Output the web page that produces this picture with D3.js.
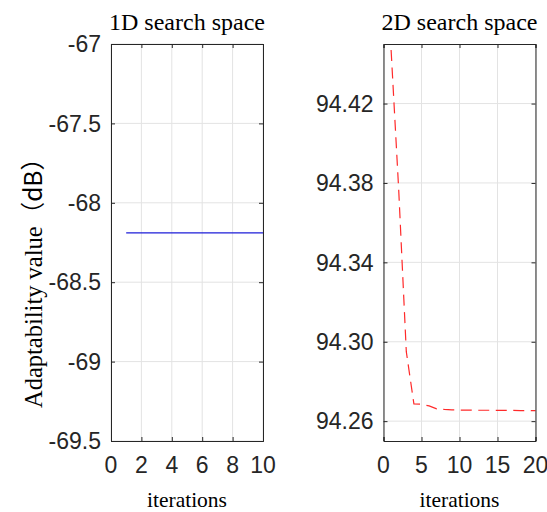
<!DOCTYPE html>
<html>
<head>
<meta charset="utf-8">
<script src="https://cdn.jsdelivr.net/npm/d3@7"></script>
<style>
  html, body { margin: 0; padding: 0; background: #fff; }
  svg { display: block; }
  .tick-label { font-family: "Liberation Sans", Arial, Helvetica, sans-serif; font-size: 23px; fill: #262626; }
  .serif { font-family: "Liberation Serif", "Times New Roman", serif; fill: #000; }
</style>
</head>
<body>
<svg id="chart" width="547" height="512"></svg>
<script>
// Iteration histories for the two searches
const iter1D = [1, 2, 3, 4, 5, 6, 7, 8, 9, 10];
const fitness1D = [-68.19, -68.19, -68.19, -68.19, -68.19, -68.19, -68.19, -68.19, -68.19, -68.19];

const iter2D = [1, 2, 3, 4, 5, 6, 7, 8, 9, 10, 11, 12, 13, 14, 15, 16, 17, 18, 19, 20];
const fitness2D = [94.447, 94.3766, 94.295, 94.2687, 94.2685, 94.2677, 94.2662, 94.2659, 94.2657, 94.2656,
                   94.2656, 94.2655, 94.2655, 94.2655, 94.2654, 94.2654, 94.2654, 94.2653, 94.2653, 94.2653];

// Axis ticks and their printed labels
const xTicks1D = [0, 2, 4, 6, 8, 10];
const yTicks1D = [-67, -67.5, -68, -68.5, -69, -69.5];
const yLabels1D = ["-67", "-67.5", "-68", "-68.5", "-69", "-69.5"];
const xTicks2D = [0, 5, 10, 15, 20];
const yTicks2D = [94.26, 94.30, 94.34, 94.38, 94.42];
const yLabels2D = ["94.26", "94.30", "94.34", "94.38", "94.42"];

const svg = d3.select("#chart");

function panel(opts) {
  const { left, right, top, bottom, xDomain, yDomain, xTicks, yTicks, yLabels, xs, ys, title, stroke, dash } = opts;
  const x = d3.scaleLinear().domain(xDomain).range([left, right]);
  const y = d3.scaleLinear().domain(yDomain).range([bottom, top]);
  const g = svg.append("g");

  // grid
  g.append("g").selectAll("line").data(xTicks).join("line")
    .attr("x1", d => x(d)).attr("x2", d => x(d)).attr("y1", top).attr("y2", bottom)
    .attr("stroke", "#e3e3e3").attr("stroke-width", 1);
  g.append("g").selectAll("line").data(yTicks).join("line")
    .attr("y1", d => y(d)).attr("y2", d => y(d)).attr("x1", left).attr("x2", right)
    .attr("stroke", "#e3e3e3").attr("stroke-width", 1);

  // data line
  const line = d3.line().x((d, i) => x(xs[i])).y(d => y(d));
  g.append("path").datum(ys)
    .attr("d", line)
    .attr("fill", "none")
    .attr("stroke", stroke)
    .attr("stroke-width", 1.2)
    .attr("stroke-dasharray", dash || null);

  // axes: ticks inward on all four sides, box outline
  const tickLen = 4;
  const axB = d3.axisBottom(x).tickValues(xTicks).tickSize(-tickLen).tickFormat("");
  const axT = d3.axisTop(x).tickValues(xTicks).tickSize(-tickLen).tickFormat("");
  const axL = d3.axisLeft(y).tickValues(yTicks).tickSize(-tickLen).tickFormat("");
  const axR = d3.axisRight(y).tickValues(yTicks).tickSize(-tickLen).tickFormat("");
  const styleAxis = sel => {
    sel.selectAll("path").attr("stroke", "#262626").attr("stroke-width", 1);
    sel.selectAll("line").attr("stroke", "#262626").attr("stroke-width", 1);
  };
  g.append("g").attr("transform", `translate(0,${bottom})`).call(axB).call(styleAxis);
  g.append("g").attr("transform", `translate(0,${top})`).call(axT).call(styleAxis);
  g.append("g").attr("transform", `translate(${left},0)`).call(axL).call(styleAxis);
  g.append("g").attr("transform", `translate(${right},0)`).call(axR).call(styleAxis);

  // tick labels
  g.append("g").selectAll("text").data(xTicks).join("text")
    .attr("class", "tick-label")
    .attr("x", d => x(d)).attr("y", 473)
    .attr("text-anchor", "middle")
    .text(d => String(d));
  g.append("g").selectAll("text").data(yTicks).join("text")
    .attr("class", "tick-label")
    .attr("x", left - 10).attr("y", d => y(d))
    .attr("dy", "0.36em")
    .attr("text-anchor", "end")
    .text((d, i) => yLabels[i]);

  // title and x label
  g.append("text").attr("class", "serif")
    .attr("x", (left + right) / 2).attr("y", 30)
    .attr("text-anchor", "middle").attr("font-size", 24)
    .text(title);
  g.append("text").attr("class", "serif")
    .attr("x", (left + right) / 2).attr("y", 507)
    .attr("text-anchor", "middle").attr("font-size", 21.5)
    .text("iterations");
}

panel({
  left: 111, right: 263, top: 44, bottom: 441,
  xDomain: [0, 10], yDomain: [-69.5, -67],
  xTicks: xTicks1D, yTicks: yTicks1D, yLabels: yLabels1D,
  xs: iter1D, ys: fitness1D,
  title: "1D search space", stroke: "#1c1cd8"
});

panel({
  left: 383.5, right: 535.5, top: 44, bottom: 441,
  xDomain: [0, 20], yDomain: [94.25, 94.45],
  xTicks: xTicks2D, yTicks: yTicks2D, yLabels: yLabels2D,
  xs: iter2D, ys: fitness2D,
  title: "2D search space", stroke: "#ff2a2a", dash: "11,6.5"
});

// shared y label
const yl = svg.append("text")
  .attr("class", "serif")
  .attr("transform", "translate(41.5,408) rotate(-90)")
  .attr("text-anchor", "start")
  .attr("font-size", 24.5);
yl.append("tspan").text("Adaptability value");
yl.append("tspan").attr("font-family", "'Noto Sans CJK SC', sans-serif").text("（dB）");
</script>
</body>
</html>
